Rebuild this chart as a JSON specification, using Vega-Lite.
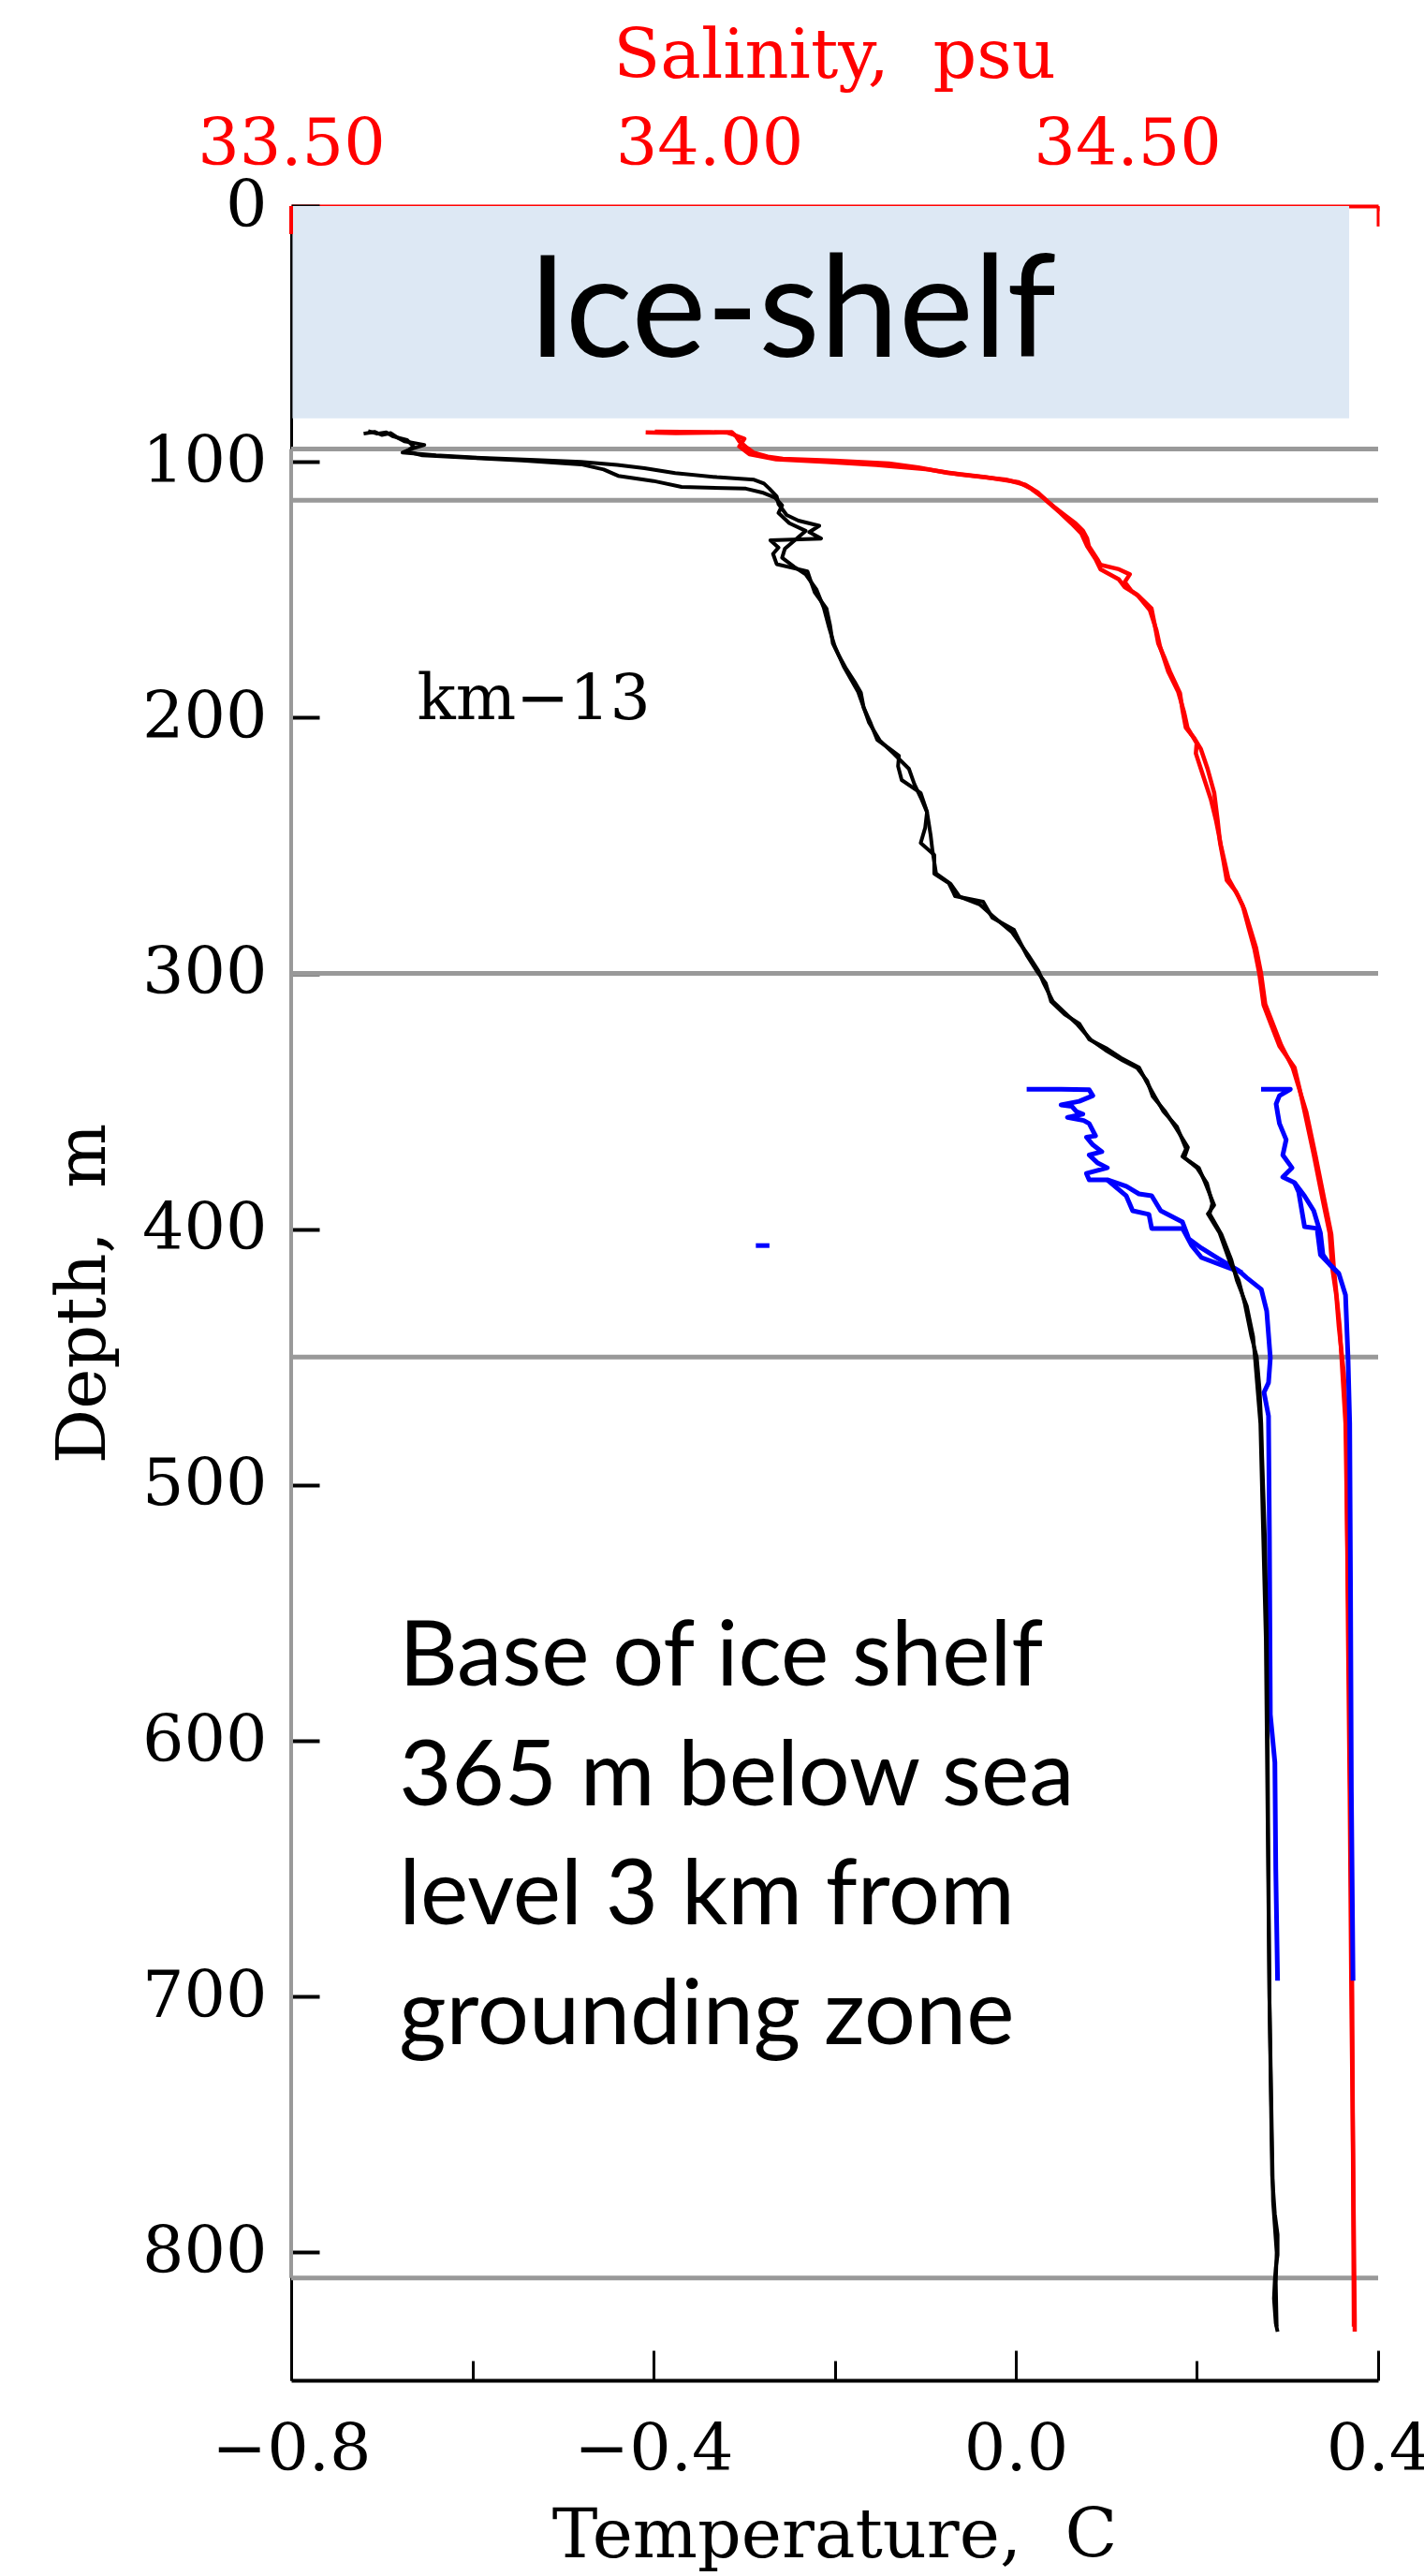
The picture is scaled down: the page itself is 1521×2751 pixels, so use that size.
{
  "$schema": "https://vega.github.io/schema/vega-lite/v6.json",
  "width": 1161,
  "height": 2322,
  "autosize": {"type": "none"},
  "padding": {"left": 311, "top": 220, "right": 49, "bottom": 209},
  "background": "white",
  "config": {
    "view": {"stroke": null},
    "axis": {"labelFont": "DejaVu Serif", "titleFont": "DejaVu Serif", "titleFontWeight": "normal", "grid": false, "labelOverlap": false, "labelBound": false, "labelFlush": false, "labelLimit": 0, "titleLimit": 0}
  },
  "datasets": {
    "ctd": [
      {"s":"T1","d":89.0,"v":-0.720},{"s":"T1","d":88.3,"v":-0.708},{"s":"T1","d":89.5,"v":-0.700},{"s":"T1","d":88.8,"v":-0.690},{"s":"T1","d":90.5,"v":-0.683},{"s":"T1","d":92.0,"v":-0.675},{"s":"T1","d":93.4,"v":-0.653},{"s":"T1","d":95.0,"v":-0.668},{"s":"T1","d":96.4,"v":-0.677},{"s":"T1","d":97.5,"v":-0.640},{"s":"T1","d":98.5,"v":-0.590},{"s":"T1","d":99.3,"v":-0.530},{"s":"T1","d":100.0,"v":-0.480},{"s":"T1","d":101.2,"v":-0.440},{"s":"T1","d":102.5,"v":-0.410},{"s":"T1","d":104.4,"v":-0.376},{"s":"T1","d":106.0,"v":-0.330},{"s":"T1","d":107.0,"v":-0.289},{"s":"T1","d":108.5,"v":-0.278},{"s":"T1","d":110.5,"v":-0.272},{"s":"T1","d":113.5,"v":-0.264},{"s":"T1","d":116.5,"v":-0.262},{"s":"T1","d":120.8,"v":-0.253},{"s":"T1","d":123.0,"v":-0.240},{"s":"T1","d":125.0,"v":-0.217},{"s":"T1","d":127.5,"v":-0.228},{"s":"T1","d":130.0,"v":-0.215},{"s":"T1","d":130.7,"v":-0.271},{"s":"T1","d":133.5,"v":-0.262},{"s":"T1","d":136.0,"v":-0.268},{"s":"T1","d":140.0,"v":-0.264},{"s":"T1","d":142.8,"v":-0.230},{"s":"T1","d":147.0,"v":-0.226},{"s":"T1","d":151.0,"v":-0.222},{"s":"T1","d":157.4,"v":-0.209},{"s":"T1","d":164.0,"v":-0.205},{"s":"T1","d":171.0,"v":-0.202},{"s":"T1","d":176.0,"v":-0.195},{"s":"T1","d":180.5,"v":-0.188},{"s":"T1","d":186.0,"v":-0.178},{"s":"T1","d":190.3,"v":-0.171},{"s":"T1","d":196.0,"v":-0.168},{"s":"T1","d":202.4,"v":-0.160},{"s":"T1","d":208.7,"v":-0.153},{"s":"T1","d":212.0,"v":-0.140},{"s":"T1","d":214.9,"v":-0.129},{"s":"T1","d":219.0,"v":-0.130},{"s":"T1","d":224.4,"v":-0.126},{"s":"T1","d":229.5,"v":-0.105},{"s":"T1","d":236.8,"v":-0.098},{"s":"T1","d":243.0,"v":-0.100},{"s":"T1","d":249.0,"v":-0.105},{"s":"T1","d":253.7,"v":-0.090},{"s":"T1","d":261.0,"v":-0.090},{"s":"T1","d":264.7,"v":-0.074},{"s":"T1","d":269.8,"v":-0.067},{"s":"T1","d":272.0,"v":-0.036},{"s":"T1","d":278.2,"v":-0.026},{"s":"T1","d":283.0,"v":-0.002},{"s":"T1","d":288.0,"v":0.005},{"s":"T1","d":292.8,"v":0.012},{"s":"T1","d":299.0,"v":0.023},{"s":"T1","d":303.8,"v":0.033},{"s":"T1","d":311.0,"v":0.039},{"s":"T1","d":316.0,"v":0.054},{"s":"T1","d":319.6,"v":0.070},{"s":"T1","d":325.8,"v":0.081},{"s":"T1","d":329.5,"v":0.101},{"s":"T1","d":333.0,"v":0.116},{"s":"T1","d":336.8,"v":0.136},{"s":"T1","d":341.5,"v":0.143},{"s":"T1","d":347.8,"v":0.153},{"s":"T1","d":354.0,"v":0.163},{"s":"T1","d":360.0,"v":0.178},{"s":"T1","d":368.6,"v":0.188},{"s":"T1","d":371.6,"v":0.184},{"s":"T1","d":376.0,"v":0.202},{"s":"T1","d":381.8,"v":0.209},{"s":"T1","d":390.6,"v":0.219},{"s":"T1","d":394.0,"v":0.212},{"s":"T1","d":401.5,"v":0.225},{"s":"T1","d":412.5,"v":0.236},{"s":"T1","d":419.9,"v":0.246},{"s":"T1","d":429.4,"v":0.253},{"s":"T1","d":441.8,"v":0.260},{"s":"T1","d":450.0,"v":0.266},{"s":"T1","d":462.0,"v":0.269},{"s":"T1","d":476.0,"v":0.271},{"s":"T1","d":489.0,"v":0.272},{"s":"T1","d":520.0,"v":0.275},{"s":"T1","d":558.0,"v":0.277},{"s":"T1","d":600.0,"v":0.278},{"s":"T1","d":652.7,"v":0.279},{"s":"T1","d":700.0,"v":0.280},{"s":"T1","d":747.5,"v":0.282},{"s":"T1","d":770.0,"v":0.283},{"s":"T1","d":785.0,"v":0.286},{"s":"T1","d":793.0,"v":0.289},{"s":"T1","d":801.0,"v":0.289},{"s":"T1","d":806.0,"v":0.287},{"s":"T1","d":810.5,"v":0.286},{"s":"T1","d":818.0,"v":0.285},{"s":"T1","d":827.7,"v":0.287},{"s":"T1","d":831.0,"v":0.289},

      {"s":"T2","d":88.0,"v":-0.715},{"s":"T2","d":89.0,"v":-0.705},{"s":"T2","d":88.5,"v":-0.695},{"s":"T2","d":90.0,"v":-0.688},{"s":"T2","d":91.5,"v":-0.672},{"s":"T2","d":94.0,"v":-0.665},{"s":"T2","d":96.0,"v":-0.672},{"s":"T2","d":97.5,"v":-0.655},{"s":"T2","d":98.5,"v":-0.600},{"s":"T2","d":99.5,"v":-0.545},{"s":"T2","d":101.0,"v":-0.480},{"s":"T2","d":103.0,"v":-0.455},{"s":"T2","d":105.5,"v":-0.439},{"s":"T2","d":107.5,"v":-0.400},{"s":"T2","d":109.8,"v":-0.369},{"s":"T2","d":110.5,"v":-0.298},{"s":"T2","d":112.0,"v":-0.280},{"s":"T2","d":114.0,"v":-0.266},{"s":"T2","d":117.0,"v":-0.258},{"s":"T2","d":120.0,"v":-0.262},{"s":"T2","d":124.0,"v":-0.250},{"s":"T2","d":127.0,"v":-0.232},{"s":"T2","d":131.0,"v":-0.245},{"s":"T2","d":134.0,"v":-0.255},{"s":"T2","d":137.5,"v":-0.258},{"s":"T2","d":141.0,"v":-0.245},{"s":"T2","d":144.0,"v":-0.232},{"s":"T2","d":150.0,"v":-0.220},{"s":"T2","d":157.0,"v":-0.212},{"s":"T2","d":165.0,"v":-0.206},{"s":"T2","d":172.0,"v":-0.200},{"s":"T2","d":180.0,"v":-0.190},{"s":"T2","d":190.0,"v":-0.174},{"s":"T2","d":202.0,"v":-0.162},{"s":"T2","d":209.0,"v":-0.150},{"s":"T2","d":214.0,"v":-0.135},{"s":"T2","d":220.0,"v":-0.118},{"s":"T2","d":226.0,"v":-0.112},{"s":"T2","d":232.0,"v":-0.104},{"s":"T2","d":237.0,"v":-0.098},{"s":"T2","d":246.0,"v":-0.094},{"s":"T2","d":252.0,"v":-0.092},{"s":"T2","d":261.0,"v":-0.088},{"s":"T2","d":265.0,"v":-0.072},{"s":"T2","d":270.0,"v":-0.062},{"s":"T2","d":273.0,"v":-0.040},{"s":"T2","d":278.0,"v":-0.024},{"s":"T2","d":284.0,"v":-0.004},{"s":"T2","d":293.0,"v":0.014},{"s":"T2","d":299.0,"v":0.025},{"s":"T2","d":304.0,"v":0.031},{"s":"T2","d":311.0,"v":0.041},{"s":"T2","d":316.0,"v":0.056},{"s":"T2","d":320.0,"v":0.068},{"s":"T2","d":326.0,"v":0.083},{"s":"T2","d":330.0,"v":0.099},{"s":"T2","d":334.0,"v":0.118},{"s":"T2","d":337.0,"v":0.134},{"s":"T2","d":342.0,"v":0.145},{"s":"T2","d":348.0,"v":0.151},{"s":"T2","d":354.0,"v":0.165},{"s":"T2","d":360.0,"v":0.176},{"s":"T2","d":368.0,"v":0.190},{"s":"T2","d":372.0,"v":0.186},{"s":"T2","d":376.0,"v":0.200},{"s":"T2","d":382.0,"v":0.211},{"s":"T2","d":390.0,"v":0.217},{"s":"T2","d":394.0,"v":0.214},{"s":"T2","d":402.0,"v":0.227},{"s":"T2","d":412.0,"v":0.238},{"s":"T2","d":420.0,"v":0.244},{"s":"T2","d":430.0,"v":0.255},{"s":"T2","d":442.0,"v":0.262},{"s":"T2","d":450.0,"v":0.264},{"s":"T2","d":476.0,"v":0.270},{"s":"T2","d":560.0,"v":0.276},{"s":"T2","d":700.0,"v":0.280},{"s":"T2","d":780.0,"v":0.284},{"s":"T2","d":800.0,"v":0.288},{"s":"T2","d":812.0,"v":0.287},{"s":"T2","d":829.0,"v":0.288},

      {"s":"BT1","d":345.3,"v":0.012},{"s":"BT1","d":345.3,"v":0.050},{"s":"BT1","d":345.5,"v":0.081},{"s":"BT1","d":347.8,"v":0.085},{"s":"BT1","d":350.0,"v":0.070},{"s":"BT1","d":351.4,"v":0.050},{"s":"BT1","d":352.0,"v":0.062},{"s":"BT1","d":354.0,"v":0.067},{"s":"BT1","d":355.0,"v":0.074},{"s":"BT1","d":356.3,"v":0.057},{"s":"BT1","d":357.5,"v":0.075},{"s":"BT1","d":358.7,"v":0.081},{"s":"BT1","d":363.5,"v":0.088},{"s":"BT1","d":364.0,"v":0.078},{"s":"BT1","d":367.0,"v":0.085},{"s":"BT1","d":369.7,"v":0.095},{"s":"BT1","d":371.0,"v":0.081},{"s":"BT1","d":374.0,"v":0.090},{"s":"BT1","d":376.0,"v":0.101},{"s":"BT1","d":378.2,"v":0.078},{"s":"BT1","d":380.7,"v":0.081},{"s":"BT1","d":380.7,"v":0.101},{"s":"BT1","d":383.2,"v":0.122},{"s":"BT1","d":386.2,"v":0.136},{"s":"BT1","d":386.9,"v":0.150},{"s":"BT1","d":392.8,"v":0.160},{"s":"BT1","d":397.2,"v":0.184},{"s":"BT1","d":403.8,"v":0.191},{"s":"BT1","d":407.4,"v":0.205},{"s":"BT1","d":411.1,"v":0.222},{"s":"BT1","d":416.2,"v":0.246},{"s":"BT1","d":419.0,"v":0.255},{"s":"BT1","d":423.5,"v":0.271},{"s":"BT1","d":432.0,"v":0.277},{"s":"BT1","d":450.3,"v":0.281},{"s":"BT1","d":460.0,"v":0.279},{"s":"BT1","d":463.8,"v":0.274},{"s":"BT1","d":473.0,"v":0.279},{"s":"BT1","d":520.0,"v":0.280},{"s":"BT1","d":589.7,"v":0.281},{"s":"BT1","d":608.4,"v":0.286},{"s":"BT1","d":650.0,"v":0.287},{"s":"BT1","d":693.8,"v":0.289},

      {"s":"BT2","d":380.7,"v":0.101},{"s":"BT2","d":387.0,"v":0.122},{"s":"BT2","d":392.8,"v":0.129},{"s":"BT2","d":394.2,"v":0.147},{"s":"BT2","d":399.7,"v":0.150},{"s":"BT2","d":399.7,"v":0.184},{"s":"BT2","d":406.3,"v":0.194},{"s":"BT2","d":411.1,"v":0.205},{"s":"BT2","d":414.8,"v":0.233},{"s":"BT2","d":417.0,"v":0.250},

      {"s":"BX","d":406.4,"v":-0.287},{"s":"BX","d":406.4,"v":-0.272},

      {"s":"S1","d":88.5,"v":33.924},{"s":"S1","d":88.8,"v":33.960},{"s":"S1","d":88.6,"v":34.000},{"s":"S1","d":88.4,"v":34.027},{"s":"S1","d":90.0,"v":34.032},{"s":"S1","d":92.0,"v":34.036},{"s":"S1","d":94.5,"v":34.045},{"s":"S1","d":96.4,"v":34.053},{"s":"S1","d":98.0,"v":34.070},{"s":"S1","d":98.8,"v":34.088},{"s":"S1","d":99.6,"v":34.150},{"s":"S1","d":100.7,"v":34.215},{"s":"S1","d":102.2,"v":34.250},{"s":"S1","d":104.3,"v":34.285},{"s":"S1","d":106.0,"v":34.330},{"s":"S1","d":108.0,"v":34.370},{"s":"S1","d":110.5,"v":34.385},{"s":"S1","d":114.2,"v":34.400},{"s":"S1","d":117.5,"v":34.412},{"s":"S1","d":120.8,"v":34.425},{"s":"S1","d":124.0,"v":34.438},{"s":"S1","d":127.0,"v":34.447},{"s":"S1","d":130.0,"v":34.452},{"s":"S1","d":133.0,"v":34.454},{"s":"S1","d":138.0,"v":34.464},{"s":"S1","d":140.3,"v":34.468},{"s":"S1","d":142.0,"v":34.490},{"s":"S1","d":144.0,"v":34.503},{"s":"S1","d":147.0,"v":34.497},{"s":"S1","d":150.5,"v":34.505},{"s":"S1","d":152.6,"v":34.514},{"s":"S1","d":157.4,"v":34.529},{"s":"S1","d":164.0,"v":34.533},{"s":"S1","d":171.0,"v":34.537},{"s":"S1","d":177.0,"v":34.545},{"s":"S1","d":182.0,"v":34.551},{"s":"S1","d":190.4,"v":34.563},{"s":"S1","d":197.0,"v":34.566},{"s":"S1","d":203.9,"v":34.570},{"s":"S1","d":208.0,"v":34.580},{"s":"S1","d":212.3,"v":34.588},{"s":"S1","d":220.0,"v":34.596},{"s":"S1","d":229.5,"v":34.604},{"s":"S1","d":240.0,"v":34.608},{"s":"S1","d":249.0,"v":34.611},{"s":"S1","d":256.0,"v":34.615},{"s":"S1","d":263.6,"v":34.619},{"s":"S1","d":268.0,"v":34.630},{"s":"S1","d":273.4,"v":34.638},{"s":"S1","d":282.0,"v":34.645},{"s":"S1","d":290.3,"v":34.652},{"s":"S1","d":300.2,"v":34.658},{"s":"S1","d":312.3,"v":34.663},{"s":"S1","d":320.0,"v":34.672},{"s":"S1","d":328.4,"v":34.682},{"s":"S1","d":336.8,"v":34.700},{"s":"S1","d":345.0,"v":34.706},{"s":"S1","d":354.0,"v":34.712},{"s":"S1","d":370.8,"v":34.723},{"s":"S1","d":389.0,"v":34.734},{"s":"S1","d":401.5,"v":34.742},{"s":"S1","d":414.8,"v":34.745},{"s":"S1","d":426.0,"v":34.750},{"s":"S1","d":438.2,"v":34.753},{"s":"S1","d":456.5,"v":34.759},{"s":"S1","d":475.9,"v":34.762},{"s":"S1","d":520.0,"v":34.763},{"s":"S1","d":558.0,"v":34.764},{"s":"S1","d":620.0,"v":34.766},{"s":"S1","d":700.0,"v":34.768},{"s":"S1","d":760.0,"v":34.770},{"s":"S1","d":826.2,"v":34.772},{"s":"S1","d":831.0,"v":34.772},

      {"s":"S2","d":88.2,"v":33.935},{"s":"S2","d":88.4,"v":34.000},{"s":"S2","d":88.6,"v":34.022},{"s":"S2","d":89.5,"v":34.030},{"s":"S2","d":91.0,"v":34.042},{"s":"S2","d":94.0,"v":34.036},{"s":"S2","d":97.0,"v":34.048},{"s":"S2","d":99.0,"v":34.080},{"s":"S2","d":100.0,"v":34.140},{"s":"S2","d":101.2,"v":34.200},{"s":"S2","d":103.0,"v":34.262},{"s":"S2","d":105.0,"v":34.300},{"s":"S2","d":107.0,"v":34.355},{"s":"S2","d":109.0,"v":34.378},{"s":"S2","d":112.0,"v":34.393},{"s":"S2","d":116.0,"v":34.406},{"s":"S2","d":120.0,"v":34.420},{"s":"S2","d":124.0,"v":34.433},{"s":"S2","d":128.0,"v":34.445},{"s":"S2","d":133.0,"v":34.452},{"s":"S2","d":138.0,"v":34.462},{"s":"S2","d":142.0,"v":34.468},{"s":"S2","d":146.0,"v":34.490},{"s":"S2","d":149.0,"v":34.497},{"s":"S2","d":152.0,"v":34.512},{"s":"S2","d":158.0,"v":34.527},{"s":"S2","d":166.0,"v":34.535},{"s":"S2","d":172.0,"v":34.539},{"s":"S2","d":182.0,"v":34.549},{"s":"S2","d":190.0,"v":34.561},{"s":"S2","d":198.0,"v":34.568},{"s":"S2","d":204.0,"v":34.572},{"s":"S2","d":210.0,"v":34.583},{"s":"S2","d":214.0,"v":34.582},{"s":"S2","d":222.0,"v":34.590},{"s":"S2","d":232.0,"v":34.600},{"s":"S2","d":240.0,"v":34.606},{"s":"S2","d":250.0,"v":34.612},{"s":"S2","d":263.0,"v":34.621},{"s":"S2","d":270.0,"v":34.633},{"s":"S2","d":275.0,"v":34.640},{"s":"S2","d":290.0,"v":34.654},{"s":"S2","d":300.0,"v":34.660},{"s":"S2","d":312.0,"v":34.665},{"s":"S2","d":328.0,"v":34.684},{"s":"S2","d":337.0,"v":34.698},{"s":"S2","d":354.0,"v":34.714},{"s":"S2","d":371.0,"v":34.725},{"s":"S2","d":389.0,"v":34.736},{"s":"S2","d":402.0,"v":34.744},{"s":"S2","d":415.0,"v":34.747},{"s":"S2","d":438.0,"v":34.754},{"s":"S2","d":476.0,"v":34.761},{"s":"S2","d":560.0,"v":34.765},{"s":"S2","d":700.0,"v":34.769},{"s":"S2","d":829.0,"v":34.771},

      {"s":"BS1","d":345.3,"v":34.660},{"s":"BS1","d":345.3,"v":34.695},{"s":"BS1","d":347.8,"v":34.682},{"s":"BS1","d":351.0,"v":34.678},{"s":"BS1","d":355.0,"v":34.680},{"s":"BS1","d":358.7,"v":34.682},{"s":"BS1","d":365.0,"v":34.690},{"s":"BS1","d":371.0,"v":34.686},{"s":"BS1","d":376.0,"v":34.697},{"s":"BS1","d":379.6,"v":34.686},{"s":"BS1","d":381.8,"v":34.700},{"s":"BS1","d":387.0,"v":34.712},{"s":"BS1","d":392.8,"v":34.723},{"s":"BS1","d":401.5,"v":34.731},{"s":"BS1","d":410.0,"v":34.734},{"s":"BS1","d":413.7,"v":34.742},{"s":"BS1","d":417.3,"v":34.753},{"s":"BS1","d":425.7,"v":34.761},{"s":"BS1","d":450.3,"v":34.764},{"s":"BS1","d":475.9,"v":34.766},{"s":"BS1","d":540.0,"v":34.767},{"s":"BS1","d":620.0,"v":34.768},{"s":"BS1","d":693.8,"v":34.770},

      {"s":"BS2","d":381.8,"v":34.700},{"s":"BS2","d":385.5,"v":34.705},{"s":"BS2","d":399.0,"v":34.712},{"s":"BS2","d":399.7,"v":34.727},{"s":"BS2","d":410.0,"v":34.731},{"s":"BS2","d":414.8,"v":34.745},{"s":"BS2","d":417.3,"v":34.753}
    ]
  },
  "layer": [
    {
      "layer": [
        {
          "data": {"values": [{}]},
          "mark": {"type": "rect", "fill": "#dde8f4"},
          "encoding": {
            "x": {"datum": -0.7985}, "x2": {"datum": 0.368},
            "y": {"datum": 0}, "y2": {"datum": 83}
          }
        },
        {
          "data": {"values": [{"d": 95}, {"d": 115}, {"d": 300}, {"d": 450}, {"d": 810}]},
          "mark": {"type": "rule", "stroke": "#999999", "strokeWidth": 5},
          "encoding": {"y": {"field": "d", "type": "quantitative"}}
        },
        {
          "data": {"values": [{}]},
          "mark": {"type": "rule", "stroke": "#999999", "strokeWidth": 4},
          "encoding": {"x": {"datum": -0.8}, "y": {"datum": 95}, "y2": {"datum": 810}}
        },
        {
          "data": {"name": "ctd"},
          "transform": [{"filter": {"field": "s", "oneOf": ["BT1", "BT2", "BX"]}}],
          "mark": {"type": "line", "stroke": "#0000ff", "strokeWidth": 5, "strokeJoin": "round"},
          "encoding": {
            "x": {"field": "v", "type": "quantitative"},
            "y": {"field": "d", "type": "quantitative"},
            "detail": {"field": "s"},
            "order": {"value": null}
          }
        },
        {
          "data": {"name": "ctd"},
          "transform": [{"filter": {"field": "s", "oneOf": ["T1", "T2"]}}],
          "mark": {"type": "line", "stroke": "black", "strokeWidth": 4, "strokeJoin": "round"},
          "encoding": {
            "x": {
              "field": "v", "type": "quantitative",
              "scale": {"domain": [-0.8, 0.4], "nice": false, "zero": false},
              "axis": {
                "orient": "bottom",
                "values": [-0.8, -0.6, -0.4, -0.2, 0, 0.2, 0.4],
                "format": ".1f",
                "labelExpr": "abs(round(datum.value*10)) % 4 === 0 ? datum.label : ''",
                "tickSize": {"condition": {"test": "abs(round(datum.value*10)) % 4 === 0", "value": -32}, "value": -21},
                "tickWidth": 3, "tickColor": "black",
                "domainColor": "black", "domainWidth": 4,
                "labelFontSize": 70, "labelColor": "black", "labelPadding": 127, "labelBaseline": "alphabetic",
                "title": "Temperature,\u00a0 C", "titleFontSize": 73, "titleColor": "black",
                "titleAlign": "center", "titleBaseline": "alphabetic", "titleX": 580, "titleY": 188
              }
            },
            "y": {
              "field": "d", "type": "quantitative",
              "scale": {"domain": [0, 850], "reverse": true, "nice": false, "zero": false},
              "axis": {
                "values": [0, 100, 200, 300, 400, 500, 600, 700, 800],
                "tickSize": -30, "tickWidth": 4, "tickColor": "black",
                "domainColor": "black", "domainWidth": 3,
                "labelFontSize": 70, "labelColor": "black", "labelPadding": 56,
                "title": "Depth,\u00a0 m", "titleFontSize": 73, "titleColor": "black",
                "titleAngle": -90, "titleAlign": "center", "titleBaseline": "alphabetic",
                "titleX": -200, "titleY": 1161
              }
            },
            "detail": {"field": "s"},
            "order": {"value": null}
          }
        },
        {
          "data": {"values": [{}]},
          "mark": {"type": "text", "font": "Lato", "fontSize": 151, "align": "center", "baseline": "alphabetic", "color": "black"},
          "encoding": {"x": {"datum": -0.247}, "y": {"datum": 58.9}, "text": {"value": "Ice-shelf"}}
        },
        {
          "data": {"values": [{}]},
          "mark": {"type": "text", "font": "DejaVu Serif", "fontSize": 68, "align": "left", "baseline": "alphabetic", "color": "black"},
          "encoding": {"x": {"datum": -0.661}, "y": {"datum": 200.6}, "text": {"value": "km−13"}}
        },
        {
          "data": {"values": [{}]},
          "mark": {"type": "text", "font": "Lato", "fontSize": 97, "align": "left", "baseline": "alphabetic", "lineHeight": 127.5, "color": "black"},
          "encoding": {
            "x": {"datum": -0.681}, "y": {"datum": 578.5},
            "text": {"value": ["Base of ice shelf", "365 m below sea", "level 3 km from", "grounding zone"]}
          }
        }
      ]
    },
    {
      "layer": [
        {
          "data": {"name": "ctd"},
          "transform": [{"filter": {"field": "s", "oneOf": ["S1", "S2"]}}],
          "mark": {"type": "line", "stroke": "#ff0000", "strokeWidth": 4.5, "strokeJoin": "round"},
          "encoding": {
            "x": {
              "field": "v", "type": "quantitative",
              "scale": {"domain": [33.5, 34.8], "nice": false, "zero": false},
              "axis": {
                "orient": "top",
                "values": [33.5, 33.55, 33.6, 33.65, 33.7, 33.75, 33.8, 33.85, 33.9, 33.95, 34.0, 34.05, 34.1, 34.15, 34.2, 34.25, 34.3, 34.35, 34.4, 34.45, 34.5, 34.55, 34.6, 34.65, 34.7, 34.75, 34.8],
                "format": ".2f",
                "labelExpr": "datum.label == '33.50' || datum.label == '34.00' || datum.label == '34.50' ? datum.label : ''",
                "tickSize": -5, "tickWidth": 2, "tickColor": "#ff0000",
                "domainColor": "#ff0000", "domainWidth": 4,
                "labelFontSize": 70, "labelColor": "#ff0000", "labelPadding": 50, "labelBaseline": "alphabetic",
                "title": "Salinity,\u00a0 psu", "titleFontSize": 73, "titleColor": "#ff0000",
                "titleAlign": "center", "titleBaseline": "alphabetic", "titleX": 580, "titleY": -138
              }
            },
            "y": {"field": "d", "type": "quantitative"},
            "detail": {"field": "s"},
            "order": {"value": null}
          }
        },
        {
          "data": {"name": "ctd"},
          "transform": [{"filter": {"field": "s", "oneOf": ["BS1", "BS2"]}}],
          "mark": {"type": "line", "stroke": "#0000ff", "strokeWidth": 5, "strokeJoin": "round"},
          "encoding": {
            "x": {"field": "v", "type": "quantitative"},
            "y": {"field": "d", "type": "quantitative"},
            "detail": {"field": "s"},
            "order": {"value": null}
          }
        },
        {
          "data": {"values": [{}]},
          "mark": {"type": "rule", "stroke": "#ff0000", "strokeWidth": 4},
          "encoding": {"x": {"datum": 33.5}, "y": {"datum": 0}, "y2": {"datum": 11}}
        },
        {
          "data": {"values": [{}]},
          "mark": {"type": "rule", "stroke": "#ff0000", "strokeWidth": 3},
          "encoding": {"x": {"datum": 34.8}, "y": {"datum": 0}, "y2": {"datum": 8}}
        }
      ]
    }
  ],
  "resolve": {"scale": {"x": "independent"}}
}
